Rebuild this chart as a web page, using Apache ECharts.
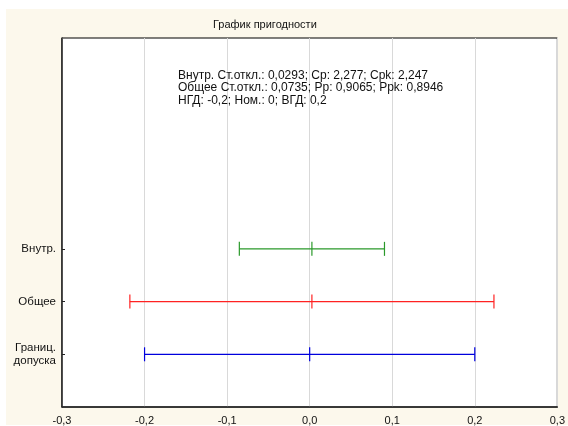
<!DOCTYPE html>
<html>
<head>
<meta charset="utf-8">
<script src="https://cdn.jsdelivr.net/npm/echarts@6/dist/echarts.min.js"></script>
<style>
html,body{margin:0;padding:0;background:#fff;}
#chart{width:568px;height:426px;}
</style>
</head>
<body>
<div id="chart"></div>
<script>
// Rows of the capability plot, bottom to top
const categories = ['Границ.\nдопуска', 'Общее', 'Внутр.'];
const lowValues  = [-0.2, -0.2178, -0.0852];
const midValues  = [0.0, 0.0027, 0.0027];
const highValues = [0.2, 0.2232, 0.0906];
const rowColors  = ['#0000dd', '#ff2222', '#2a992a'];
const xTicks = [-0.3, -0.2, -0.1, 0.0, 0.1, 0.2, 0.3];
const statsLines = [
  'Внутр. Ст.откл.: 0,0293; Cp: 2,277; Cpk: 2,247',
  'Общее Ст.откл.: 0,0735; Pp: 0,9065; Ppk: 0,8946',
  'НГД: -0,2; Ном.: 0; ВГД: 0,2'
];

// Category slots: an empty slot below and empty slots above the rows
const yAxisData = [''].concat(categories, ['', '', '', '']);

const chart = echarts.init(document.getElementById('chart'), null, {renderer: 'canvas'});

const data = categories.map((c, i) => ({
  value: [i + 1, lowValues[i], midValues[i], highValues[i]],
  itemStyle: {color: rowColors[i]}
}));

function renderItem(params, api) {
  const y = api.value(0);
  const pLow = api.coord([api.value(1), y]);
  const pMid = api.coord([api.value(2), y]);
  const pHigh = api.coord([api.value(3), y]);
  const h = 7;
  const color = api.visual('color');
  const style = {stroke: color, lineWidth: 1.2, fill: null};
  const seg = (x1, y1, x2, y2) => ({type: 'line', shape: {x1, y1, x2, y2}, style});
  return {
    type: 'group',
    children: [
      seg(pLow[0], pLow[1], pHigh[0], pHigh[1]),
      seg(pLow[0], pLow[1] - h, pLow[0], pLow[1] + h),
      seg(pMid[0], pMid[1] - h, pMid[0], pMid[1] + h),
      seg(pHigh[0], pHigh[1] - h, pHigh[0], pHigh[1] + h)
    ]
  };
}

const option = {
  backgroundColor: '#ffffff',
  animation: false,
  textStyle: {fontFamily: 'Liberation Sans, Arial, sans-serif'},
  graphic: [
    {type: 'rect', z: -10, shape: {x: 6, y: 9, width: 562, height: 416}, style: {fill: '#fcf8ec'}},
    {type: 'text', left: 213, top: 19, z: 10,
     style: {text: 'График пригодности', font: '11px "Liberation Sans", Arial, sans-serif', fill: '#111'}},
    {type: 'text', left: 178, top: 69, z: 10,
     style: {text: statsLines.join('\n'), font: '12px "Liberation Sans", Arial, sans-serif', lineHeight: 12.5, fill: '#111'}}
  ],
  grid: {
    left: 62, right: 9, top: 38, bottom: 18.5,
    show: true, backgroundColor: '#ffffff', borderColor: '#000', borderWidth: 1,
    containLabel: false
  },
  xAxis: {
    type: 'value',
    min: xTicks[0], max: xTicks[xTicks.length - 1], interval: 0.1,
    axisLine: {show: true, onZero: false, lineStyle: {color: '#222', width: 1.5}},
    axisTick: {show: false},
    splitLine: {show: true, lineStyle: {color: '#d9d9d9', width: 1}},
    axisLabel: {
      color: '#111', fontSize: 11, margin: 8,
      formatter: v => v.toFixed(1).replace('.', ',')
    }
  },
  yAxis: {
    type: 'category',
    data: yAxisData,
    boundaryGap: false,
    axisLine: {show: true, onZero: false, lineStyle: {color: '#222', width: 1.5}},
    axisTick: {show: true, inside: true, length: 3, lineStyle: {color: '#222'},
               interval: (idx, val) => val !== ''},
    splitLine: {show: false},
    axisLabel: {color: '#111', fontSize: 11.5, margin: 6, align: 'right', lineHeight: 13,
                interval: (idx, val) => val !== ''}
  },
  series: [{
    type: 'custom',
    renderItem: renderItem,
    encode: {x: [1, 2, 3], y: 0},
    data: data
  }]
};

chart.setOption(option);
</script>
</body>
</html>
